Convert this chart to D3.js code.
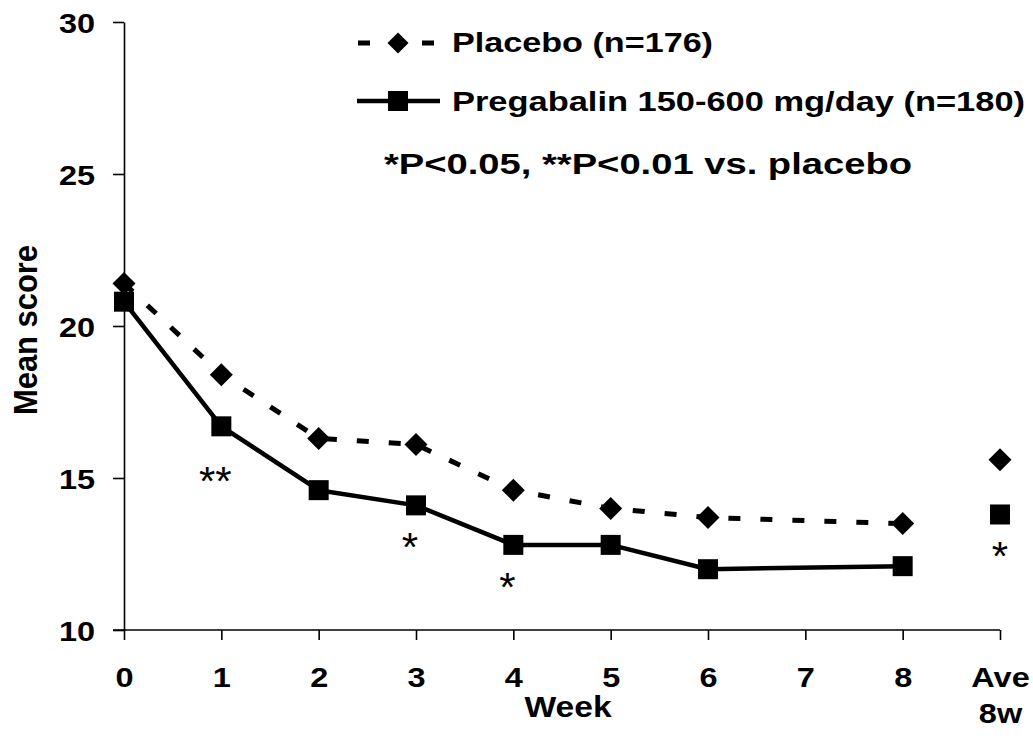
<!DOCTYPE html>
<html>
<head>
<meta charset="utf-8">
<script src="https://cdn.jsdelivr.net/npm/d3@7"></script>
<style>
  html, body { margin: 0; padding: 0; background: #fff; }
  svg { display: block; }
  text { font-family: "Liberation Sans", Arial, sans-serif; fill: #000; }
</style>
</head>
<body>
<svg id="chart" width="1033" height="747"></svg>
<script>
// Category positions along the x axis (week 7 has no visit)
const categories = ["0", "1", "2", "3", "4", "5", "6", "7", "8", "Ave 8w"];
// Category index of each weekly visit
const visitIndex = [0, 1, 2, 3, 4, 5, 6, 8];
const placeboWeekly = [21.4, 18.4, 16.3, 16.1, 14.6, 14.0, 13.7, 13.5];
const pregabalinWeekly = [20.8, 16.7, 14.6, 14.1, 12.8, 12.8, 12.0, 12.1];
// 8-week averages, drawn unconnected at the last category
const averageIndex = 9;
const placeboAverage = 15.6;
const pregabalinAverage = 13.8;
const yTicks = [10, 15, 20, 25, 30];
// Significance marks vs. placebo under the pregabalin series
const sigIndex = [1, 3, 4, 9];
const sigLabels = ["**", "*", "*", "*"];

const legendLabels = ["Placebo (n=176)", "Pregabalin 150-600 mg/day (n=180)"];
const noteLabel = "*P<0.05, **P<0.01 vs. placebo";

const svg = d3.select("#chart");
const SX = 1.16; // horizontal glyph stretch
const FS = 28;

const x = d3.scaleLinear().domain([0, categories.length - 1]).range([124, 1000]);
const y = d3.scaleLinear().domain([10, 30]).range([630, 22]);

// Y axis
const yAxis = svg.append("g")
  .attr("transform", `translate(${x(0)},0)`)
  .call(d3.axisLeft(y).tickValues(yTicks).tickSize(11).tickSizeOuter(0).tickFormat(d3.format("d")));
yAxis.select(".domain").attr("stroke", "#000").attr("stroke-width", 1.6);
yAxis.selectAll(".tick line").attr("stroke", "#000").attr("stroke-width", 1.6);
yAxis.selectAll(".tick text")
  .attr("font-size", FS).attr("font-weight", "bold")
  .attr("font-family", "Liberation Sans, Arial, sans-serif")
  .attr("x", -29 / SX).attr("dy", "0.36em")
  .attr("transform", `scale(${SX},1)`);

// X axis
const xAxis = svg.append("g")
  .attr("transform", `translate(0,${y(10)})`)
  .call(d3.axisBottom(x).tickValues(d3.range(categories.length)).tickSize(10).tickSizeOuter(0).tickFormat(""));
xAxis.select(".domain").attr("stroke", "#000").attr("stroke-width", 1.6)
  .attr("d", `M${x(0) - 11},0H${x(categories.length - 1)}`);
xAxis.selectAll(".tick line").attr("stroke", "#000").attr("stroke-width", 1.6);
xAxis.selectAll(".tick").each(function (d) {
  const lines = categories[d].split(" ");
  const t = d3.select(this).append("text")
    .attr("text-anchor", "middle")
    .attr("font-size", FS).attr("font-weight", "bold")
    .attr("transform", `translate(0,57) scale(${SX},1)`);
  lines.forEach((s, i) => t.append("tspan").attr("x", 0).attr("y", i * 36).text(s));
});

// Axis titles
svg.append("text")
  .attr("text-anchor", "middle").attr("font-size", 29).attr("font-weight", "bold")
  .attr("transform", `translate(568,717) scale(${SX},1)`)
  .text("Week");
svg.append("text")
  .attr("text-anchor", "middle").attr("font-size", FS).attr("font-weight", "bold")
  .attr("textLength", 170).attr("lengthAdjust", "spacingAndGlyphs")
  .attr("transform", `translate(37,330) scale(${SX},1) rotate(-90)`)
  .text("Mean score");

// Series
const placeboPts = visitIndex.map((k, i) => [x(k), y(placeboWeekly[i])]);
const pregabalinPts = visitIndex.map((k, i) => [x(k), y(pregabalinWeekly[i])]);
const line = d3.line();

svg.append("path").attr("d", line(placeboPts))
  .attr("fill", "none").attr("stroke", "#000").attr("stroke-width", 5)
  .attr("stroke-dasharray", "12,20");
svg.append("path").attr("d", line(pregabalinPts))
  .attr("fill", "none").attr("stroke", "#000").attr("stroke-width", 4.5)
  .attr("stroke-linejoin", "round");

const diamond = (cx, cy, r) => `M${cx},${cy - r}L${cx + r},${cy}L${cx},${cy + r}L${cx - r},${cy}Z`;
const square = 20;

svg.append("g").selectAll("path")
  .data(placeboPts.concat([[x(averageIndex), y(placeboAverage)]]))
  .join("path").attr("d", d => diamond(d[0], d[1], 11.5)).attr("fill", "#000");
svg.append("g").selectAll("rect")
  .data(pregabalinPts.concat([[x(averageIndex), y(pregabalinAverage)]]))
  .join("rect")
  .attr("x", d => d[0] - square / 2).attr("y", d => d[1] - square / 2)
  .attr("width", square).attr("height", square).attr("fill", "#000");

// Significance asterisks
const pregAt = k => k === averageIndex ? pregabalinAverage : pregabalinWeekly[visitIndex.indexOf(k)];
svg.append("g").selectAll("text")
  .data(sigIndex.map((k, i) => ({ k, label: sigLabels[i] })))
  .join("text")
  .attr("text-anchor", "middle").attr("font-size", 40).attr("font-weight", "normal")
  .attr("transform", d => {
    const dx = d.k === averageIndex ? 0 : -6;
    const dy = d.label.length > 1 ? 46 : 33;
    return `translate(${x(d.k) + dx},${y(pregAt(d.k)) + dy + 23}) scale(1.05,1)`;
  })
  .text(d => d.label);

// Legend
const lg = svg.append("g");
lg.append("line").attr("x1", 358).attr("x2", 434).attr("y1", 43).attr("y2", 43)
  .attr("stroke", "#000").attr("stroke-width", 5).attr("stroke-dasharray", "12,20");
lg.append("path").attr("d", diamond(398, 43, 10.5)).attr("fill", "#000");
lg.append("line").attr("x1", 357).attr("x2", 440).attr("y1", 101).attr("y2", 101)
  .attr("stroke", "#000").attr("stroke-width", 4.5);
lg.append("rect").attr("x", 388).attr("y", 91).attr("width", 20).attr("height", 20).attr("fill", "#000");
lg.append("text").attr("x", 452).attr("y", 52).attr("font-size", FS).attr("font-weight", "bold")
  .attr("textLength", 261).attr("lengthAdjust", "spacingAndGlyphs").text(legendLabels[0]);
lg.append("text").attr("x", 452).attr("y", 111).attr("font-size", FS).attr("font-weight", "bold")
  .attr("textLength", 573).attr("lengthAdjust", "spacingAndGlyphs").text(legendLabels[1]);

svg.append("text").attr("x", 384).attr("y", 174).attr("font-size", 29).attr("font-weight", "bold")
  .attr("textLength", 528).attr("lengthAdjust", "spacingAndGlyphs").text(noteLabel);
</script>
</body>
</html>
